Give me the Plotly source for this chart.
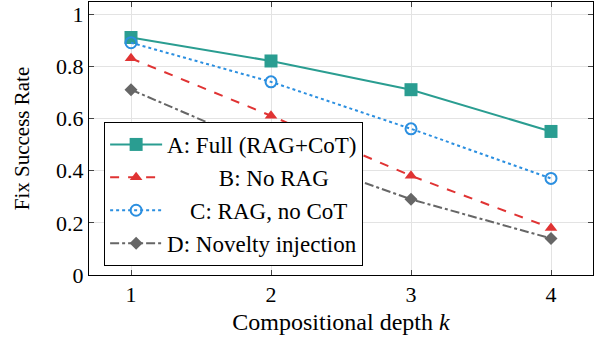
import plotly.graph_objects as go

depth = [1, 2, 3, 4]
full_rag_cot = [0.91, 0.82, 0.71, 0.55]
no_rag = [0.83, 0.61, 0.38, 0.18]
rag_no_cot = [0.89, 0.74, 0.56, 0.37]
novelty = [0.71, 0.48, 0.29, 0.14]

names = ["A: Full (RAG+CoT)",
         "\u00a0" * 9 + "B: No RAG",
         "\u00a0" * 4 + "C: RAG, no CoT",
         "D: Novelty injection"]

FONT = "Liberation Serif"
FS = 22

fig = go.Figure()
fig.add_trace(go.Scatter(x=depth, y=full_rag_cot, name=names[0], mode="lines+markers",
                         line=dict(color="#2a9d91", width=2, dash="solid"),
                         marker=dict(symbol="square", size=13, color="#2a9d91")))
fig.add_trace(go.Scatter(x=depth, y=no_rag, name=names[1], mode="lines+markers",
                         line=dict(color="#e03333", width=2, dash="dash"),
                         marker=dict(symbol="triangle-up", size=11, color="#e03333")))
fig.add_trace(go.Scatter(x=depth, y=rag_no_cot, name=names[2], mode="lines+markers",
                         line=dict(color="#2b8fe0", width=2, dash="dot"),
                         marker=dict(symbol="circle-open", size=11, color="#2b8fe0",
                                     line=dict(width=2))))
fig.add_trace(go.Scatter(x=depth, y=novelty, name=names[3], mode="lines+markers",
                         line=dict(color="#666666", width=2, dash="dashdot"),
                         marker=dict(symbol="diamond", size=10, color="#666666")))

axis_common = dict(showline=True, linecolor="black", linewidth=1, mirror="ticks",
                   ticks="inside", ticklen=5, tickcolor="#444444",
                   showgrid=True, gridcolor="#e3e3e3", gridwidth=1, zeroline=False,
                   tickfont=dict(family=FONT, size=FS, color="black"))

fig.update_xaxes(range=[0.7, 4.3], tickvals=depth, ticktext=[str(d) for d in depth],
                 title=dict(text="Compositional depth <i>k</i>", standoff=6,
                            font=dict(family=FONT, size=24, color="black")),
                 **axis_common)
fig.update_yaxes(range=[0, 1.046], tickvals=[0, 0.2, 0.4, 0.6, 0.8, 1],
                 ticktext=["0", "0.2", "0.4", "0.6", "0.8", "1"],
                 title=dict(text="Fix Success Rate", standoff=20,
                            font=dict(family=FONT, size=21, color="black")),
                 **axis_common)

fig.update_layout(
    width=596, height=347,
    margin=dict(l=89, r=3, t=2, b=72),
    plot_bgcolor="white", paper_bgcolor="white",
    font=dict(family=FONT, size=FS, color="black"),
    legend=dict(x=0.03, y=0.033, xanchor="left", yanchor="bottom",
                bordercolor="black", borderwidth=1, bgcolor="white",
                font=dict(family=FONT, size=23, color="black"),
                tracegroupgap=0, itemwidth=52),
    showlegend=True,
)

fig.write_html("out.html", config={"displayModeBar": False},
               post_script="document.body.style.margin='0';")
